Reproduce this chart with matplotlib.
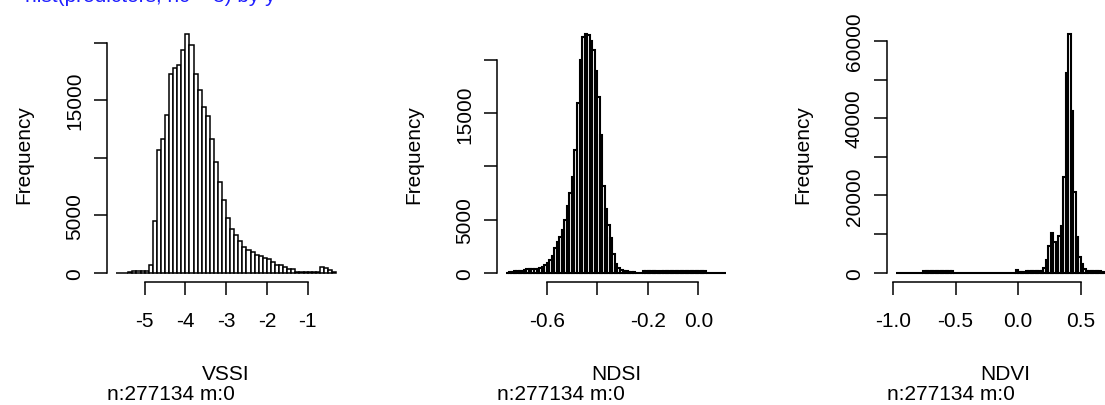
import numpy as np
import matplotlib
matplotlib.use("Agg")
import matplotlib.pyplot as plt

plt.rcParams['font.family'] = ['Liberation Sans', 'DejaVu Sans']

# ------------------------------------------------------------------ data
header_text = "hist(predictors, nc = 3) by y"

variable_names = ["VSSI", "NDSI", "NDVI"]
subtitle = "n:277134 m:0"

vssi_first_break = -5.7
vssi_bin_width = 0.1
vssi_counts = [15, 15, 20, 25, 120, 140, 150, 170, 700, 4470,
               10640, 11660, 13750, 17310, 17810, 18040, 19400, 20790, 19780, 17310,
               15860, 14410, 13630, 11660, 9630, 7890, 6290, 4790, 3770, 3250,
               2730, 2230, 1940, 1800, 1510, 1420, 1280, 1160, 930, 700,
               640, 490, 350, 290, 40, 40, 40, 40, 40, 40,
               490, 410, 200, 60]

ndsi_first_break = -0.76
ndsi_bin_width = 0.01
ndsi_counts = [20, 30, 50, 120, 125, 130, 200, 300, 310, 310,
               320, 330, 350, 400, 530, 700, 900, 1200, 1600, 2300,
               2900, 3400, 4000, 5000, 6300, 7500, 9000, 11500, 16000, 20000,
               22200, 22500, 22400, 21800, 21000, 19000, 16500, 13000, 8200, 6000,
               4500, 3300, 1800, 800, 400, 250, 150, 120, 100, 100,
               80, 10, 10, 10, 120, 120, 120, 120, 120, 120,
               40, 130, 130, 130, 130, 130, 130, 130, 130, 130,
               130, 130, 130, 130, 130, 130, 130, 130, 130, 5,
               5, 5, 5, 5, 5, 5, 5]

ndvi_first_break = -0.98
ndvi_bin_width = 0.02
ndvi_counts = [15, 15, 15, 15, 15, 15, 15, 15, 15, 15,
               15, 500, 500, 500, 500, 500, 500, 500, 500, 500,
               500, 500, 500, 10, 10, 10, 10, 10, 10, 10,
               10, 10, 10, 10, 10, 10, 10, 10, 10, 10,
               10, 10, 10, 10, 10, 10, 10, 10, 700, 100,
               150, 300, 430, 430, 430, 430, 430, 430, 430, 1200,
               3200, 7000, 10250, 8000, 7500, 9600, 12200, 24700, 51600, 61900,
               41900, 21000, 9200, 4000, 2300, 1000, 430, 430, 420, 400,
               380, 350, 300, 250, 200, 150, 100, 50]

vssi_xticks = [-5, -4, -3, -2, -1]
vssi_xticklabels = ["-5", "-4", "-3", "-2", "-1"]
vssi_yticks = [0, 5000, 10000, 15000, 20000]
vssi_yticklabels = ["0", "5000", "", "15000", ""]

ndsi_xticks = [-0.6, -0.4, -0.2, 0.0]
ndsi_xticklabels = ["-0.6", "", "-0.2", "0.0"]
ndsi_yticks = [0, 5000, 10000, 15000, 20000]
ndsi_yticklabels = ["0", "5000", "", "15000", ""]

ndvi_xticks = [-1.0, -0.5, 0.0, 0.5]
ndvi_xticklabels = ["-1.0", "-0.5", "0.0", "0.5"]
ndvi_yticks = [0, 10000, 20000, 30000, 40000, 50000, 60000]
ndvi_yticklabels = ["0", "", "20000", "", "40000", "", "60000"]

# ------------------------------------------------------------------ layout
W, H = 1105, 406
FS = 15
fig = plt.figure(figsize=(W / 100, H / 100), dpi=100)

left_px = [107.3, 497.4, 886.7]
plot_w = 237.6
top_px, bot_px = 25.0, 283.3
plot_h = bot_px - top_px


def draw(ax, first, bw, counts, xt, xtl, yt, ytl, xlab, lw):
    counts = np.asarray(counts, dtype=float)
    edges = first + bw * np.arange(len(counts) + 1)
    ax.bar(edges[:-1], counts, width=bw, align='edge',
           facecolor='white', edgecolor='black', linewidth=lw)
    lo, hi = edges[0], edges[-1]
    r = hi - lo
    ax.set_xlim(lo - 0.04 * r, hi + 0.04 * r)
    m = counts.max()
    ax.set_ylim(-0.04 * m, 1.04 * m)
    ax.patch.set_visible(False)
    for s in ['top', 'right']:
        ax.spines[s].set_visible(False)
    for s in ['left', 'bottom']:
        ax.spines[s].set_linewidth(1.1)
    ax.spines['left'].set_bounds(yt[0], yt[-1])
    ax.spines['bottom'].set_bounds(xt[0], xt[-1])
    ax.set_xticks(xt, labels=xtl)
    ax.set_yticks(yt, labels=ytl)
    for lab in ax.get_yticklabels():
        lab.set_rotation(90)
        lab.set_va('center')
    ax.tick_params(axis='both', direction='out', length=9.6, width=1.1,
                   labelsize=FS, colors='black')
    ax.tick_params(axis='x', pad=11)
    ax.tick_params(axis='y', pad=7)
    ax.text(-84 / plot_w, 0.5, "Frequency", transform=ax.transAxes,
            rotation=90, ha='center', va='center', fontsize=FS)
    ax.text(0.5, -(380 - bot_px) / plot_h, xlab, transform=ax.transAxes,
            ha='center', va='baseline', fontsize=FS)
    ax.text(0.0, -(400 - bot_px) / plot_h, subtitle, transform=ax.transAxes,
            ha='left', va='baseline', fontsize=FS)


specs = [
    (vssi_first_break, vssi_bin_width, vssi_counts, vssi_xticks, vssi_xticklabels,
     vssi_yticks, vssi_yticklabels, variable_names[0], 1.1),
    (ndsi_first_break, ndsi_bin_width, ndsi_counts, ndsi_xticks, ndsi_xticklabels,
     ndsi_yticks, ndsi_yticklabels, variable_names[1], 1.5),
    (ndvi_first_break, ndvi_bin_width, ndvi_counts, ndvi_xticks, ndvi_xticklabels,
     ndvi_yticks, ndvi_yticklabels, variable_names[2], 1.5),
]

for lp, spec in zip(left_px, specs):
    ax = fig.add_axes([lp / W, 1 - bot_px / H, plot_w / W, plot_h / H])
    draw(ax, *spec)

fig.text(25 / W, 1 - 2 / H, header_text, color='#1f1fff', fontsize=FS,
         ha='left', va='baseline')

fig.savefig('out.png', dpi=100)
